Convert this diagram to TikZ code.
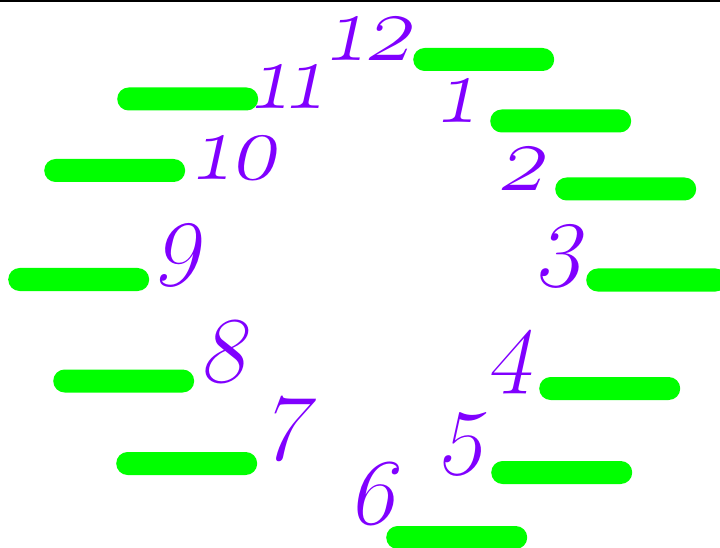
\documentclass[tikz,border=0pt]{standalone}
\usepackage{fontspec}
\newfontfamily\numfont{Latin Modern Roman}[Numbers=OldStyle,FakeSlant=0.22]
\definecolor{numpurple}{RGB}{128,0,255}
\definecolor{bargreen}{RGB}{0,255,0}
\begin{document}
\begin{tikzpicture}[x=1bp,y=-1bp,
  num/.style={inner sep=0pt,text=numpurple,font=\numfont\fontsize{95}{95}\selectfont},
  bar/.style={fill=bargreen,draw=none,rounded corners=11.5bp,minimum width=141bp,minimum height=23bp,inner sep=0pt}]
\useasboundingbox (0,0) rectangle (720,548);
\fill[black] (0,0) rectangle (720,2.5);
% bars (left edge, centre y)
\node[bar,anchor=west] (b12) at (413,59.5) {};
\node[bar,anchor=west] (b1) at (490,121) {};
\node[bar,anchor=west] (b2) at (555,189) {};
\node[bar,anchor=west] (b3) at (586,280) {};
\node[bar,anchor=west] (b4) at (539,388.5) {};
\node[bar,anchor=west] (b5) at (491,472.5) {};
\node[bar,anchor=west] (b6) at (386,537.5) {};
\node[bar,anchor=west] (b7) at (116,463.5) {};
\node[bar,anchor=west] (b8) at (53,381) {};
\node[bar,anchor=west] (b9) at (8,279.5) {};
\node[bar,anchor=west] (b10) at (44,170.5) {};
\node[bar,anchor=west] (b11) at (117,99) {};
% numbers
\node[num] (n12) at (370,38) {12};
\node[num] (n1) at (457,100) {1};
\node[num] (n2) at (520,168) {2};
\node[num] (n3) at (561,256) {3};
\node[num] (n4) at (512,362) {4};
\node[num] (n5) at (463,444) {5};
\node[num] (n6) at (371,494) {6};
\node[num] (n7) at (288,429) {7};
\node[num] (n8) at (222,352) {8};
\node[num] (n9) at (179,255) {9};
\node[num] (n10) at (236,158) {10};
\node[num] (n11) at (287,86) {11};
\end{tikzpicture}
\end{document}
